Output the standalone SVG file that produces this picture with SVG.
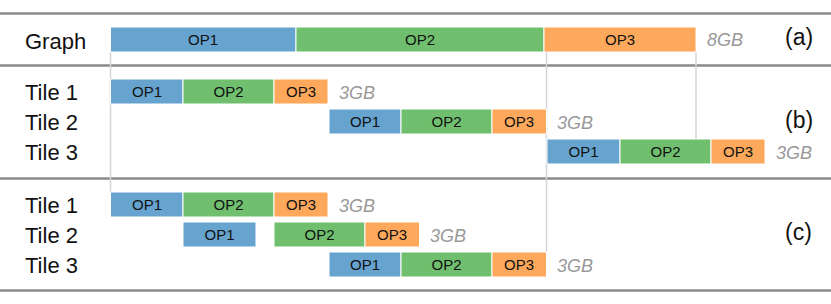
<svg xmlns="http://www.w3.org/2000/svg" width="831" height="304" viewBox="0 0 831 304">
<style>
.bg{fill:#ffffff}
.sep{stroke:#8a8a8a;stroke-width:2.5;fill:none}
.guide{stroke:#d4d4d4;stroke-width:1.5;fill:none}
.b{fill:#66a4cf;stroke:#ffffff;stroke-width:1}
.g{fill:#6fbf6f;stroke:#ffffff;stroke-width:1}
.o{fill:#fda85b;stroke:#ffffff;stroke-width:1}
.op{font-family:"Liberation Sans",Arial,sans-serif;font-size:15px;fill:#111;text-anchor:middle}
.row{font-family:"Liberation Sans",Arial,sans-serif;font-size:22px;fill:#111}
.mem{font-family:"Liberation Sans",Arial,sans-serif;font-size:18px;font-style:italic;fill:#999}
.tag{font-family:"Liberation Sans",Arial,sans-serif;font-size:23px;fill:#111}
</style>
<rect class="bg" x="0" y="0" width="831" height="304"/>
<g id="separators">
<line class="sep" x1="0" y1="13.5" x2="831" y2="13.5"/>
<line class="sep" x1="0" y1="65.5" x2="831" y2="65.5"/>
<line class="sep" x1="0" y1="178.5" x2="831" y2="178.5"/>
<line class="sep" x1="0" y1="290.5" x2="831" y2="290.5"/>
</g>
<g id="connectors">
<line class="guide" x1="110.5" y1="52" x2="110.5" y2="192"/>
<line class="guide" x1="546.5" y1="52" x2="546.5" y2="252"/>
<line class="guide" x1="696" y1="52" x2="696" y2="139"/>
</g>
<g id="labels">
<text class="row" x="25" y="49">Graph</text>
<text class="row" x="25" y="100">Tile 1</text>
<text class="row" x="25" y="130">Tile 2</text>
<text class="row" x="25" y="160">Tile 3</text>
<text class="row" x="25" y="213">Tile 1</text>
<text class="row" x="25" y="243">Tile 2</text>
<text class="row" x="25" y="273">Tile 3</text>
<text class="tag" x="785" y="45">(a)</text>
<text class="tag" x="785" y="128">(b)</text>
<text class="tag" x="785" y="240">(c)</text>
</g>
<g id="graph">
<rect class="b" x="110.5" y="27" width="185.5" height="25"/>
<text class="op" x="203" y="45">OP1</text>
<rect class="g" x="296" y="27" width="248" height="25"/>
<text class="op" x="420" y="45">OP2</text>
<rect class="o" x="544" y="27" width="152" height="25"/>
<text class="op" x="620" y="45">OP3</text>
<text class="mem" x="707" y="46">8GB</text>
</g>
<g id="b-tile1">
<rect class="b" x="110.5" y="79" width="72.5" height="25"/>
<text class="op" x="147" y="97">OP1</text>
<rect class="g" x="183" y="79" width="91" height="25"/>
<text class="op" x="228.5" y="97">OP2</text>
<rect class="o" x="274" y="79" width="54" height="25"/>
<text class="op" x="301" y="97">OP3</text>
<text class="mem" x="339" y="99">3GB</text>
</g>
<g id="b-tile2">
<rect class="b" x="329" y="109" width="72" height="25"/>
<text class="op" x="365" y="127">OP1</text>
<rect class="g" x="401" y="109" width="91" height="25"/>
<text class="op" x="446.5" y="127">OP2</text>
<rect class="o" x="492" y="109" width="54.5" height="25"/>
<text class="op" x="519" y="127">OP3</text>
<text class="mem" x="557" y="129">3GB</text>
</g>
<g id="b-tile3">
<rect class="b" x="547" y="139" width="73" height="25"/>
<text class="op" x="583.5" y="157">OP1</text>
<rect class="g" x="620" y="139" width="91" height="25"/>
<text class="op" x="665.5" y="157">OP2</text>
<rect class="o" x="711" y="139" width="54" height="25"/>
<text class="op" x="738" y="157">OP3</text>
<text class="mem" x="776" y="159">3GB</text>
</g>
<g id="c-tile1">
<rect class="b" x="110.5" y="192" width="72.5" height="25"/>
<text class="op" x="147" y="210">OP1</text>
<rect class="g" x="183" y="192" width="91" height="25"/>
<text class="op" x="228.5" y="210">OP2</text>
<rect class="o" x="274" y="192" width="54" height="25"/>
<text class="op" x="301" y="210">OP3</text>
<text class="mem" x="339" y="212">3GB</text>
</g>
<g id="c-tile2">
<rect class="b" x="183" y="222" width="73" height="25"/>
<text class="op" x="219.5" y="240">OP1</text>
<rect class="g" x="274" y="222" width="91" height="25"/>
<text class="op" x="319.5" y="240">OP2</text>
<rect class="o" x="365" y="222" width="54.5" height="25"/>
<text class="op" x="392" y="240">OP3</text>
<text class="mem" x="430" y="242">3GB</text>
</g>
<g id="c-tile3">
<rect class="b" x="329" y="252" width="72" height="25"/>
<text class="op" x="365" y="270">OP1</text>
<rect class="g" x="401" y="252" width="91" height="25"/>
<text class="op" x="446.5" y="270">OP2</text>
<rect class="o" x="492" y="252" width="54.5" height="25"/>
<text class="op" x="519" y="270">OP3</text>
<text class="mem" x="557" y="272">3GB</text>
</g>
</svg>
